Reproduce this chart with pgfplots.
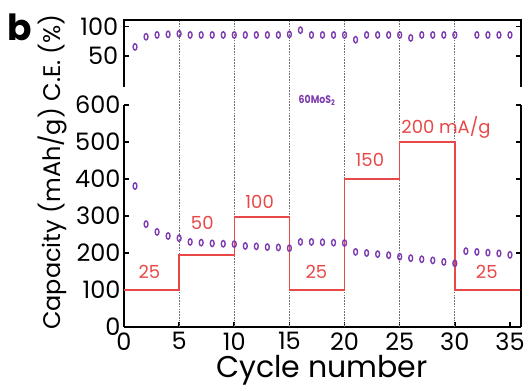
\documentclass[border=0pt]{standalone}
\usepackage{pgfplots}
\pgfplotsset{compat=1.18}
\usepackage{fontspec}
\setmainfont{Poppins}
\definecolor{mpurple}{RGB}{125,60,175}
\definecolor{mred}{RGB}{232,72,72}
\definecolor{dgray}{RGB}{110,110,110}
\begin{document}
\begin{tikzpicture}
\pgfplotsset{
  myax/.style={
    scale only axis, width=397pt, xmin=0, xmax=36,
    axis line style={line width=2.4pt,-},
    tick style={line width=1.6pt,black},
    major tick length=5pt,
    tick align=inside,
    ticklabel style={font=\fontsize{24}{24}\selectfont},
    /pgf/number format/assume math mode=true,
  },
  vl/.style={dgray, line width=0.9pt, dash pattern=on 1.6pt off 1.2pt, forget plot},
  capm/.style={only marks, mpurple, mark=o, mark size=3.2pt, mark options={xscale=0.6, line width=1.4pt}},
}
% ---------------- bottom axis: capacity (also carries the frame of the C.E. panel) ----------------
\begin{axis}[myax, name=capax, at={(0pt,0pt)}, anchor=south west, height=222pt,
  axis y line*=box, yticklabel pos=left,
  ymin=0, ymax=600, ytick={0,100,...,600},
  axis x line*=bottom, xtick={0,5,...,35},
  xticklabel style={yshift=-2pt},
  clip=false]
\addplot[vl] coordinates {(5,0) (5,829)};
\addplot[vl] coordinates {(10,0) (10,829)};
\addplot[vl] coordinates {(15,0) (15,829)};
\addplot[vl] coordinates {(20,0) (20,829)};
\addplot[vl] coordinates {(25,0) (25,829)};
\addplot[vl] coordinates {(30,0) (30,829)};
% frame of the upper (C.E.) panel: left, top and right
\addplot[black, line width=2.6pt, forget plot] coordinates {(0,648.6) (0,829.7) (36,829.7) (36,648.6)};
% ticks of the upper panel at 100 % and 50 %
\addplot[black, line width=1.6pt, forget plot] coordinates {(0,812.6) (0.45,812.6)};
\addplot[black, line width=1.6pt, forget plot] coordinates {(0,731.9) (0.45,731.9)};
\addplot[black, line width=1.6pt, forget plot] coordinates {(36,812.6) (35.55,812.6)};
\addplot[black, line width=1.6pt, forget plot] coordinates {(36,731.9) (35.55,731.9)};
\addplot[mred, line width=1.4pt, const plot] coordinates {(0,100) (5,195) (10,297) (15,100) (20,400) (25,500) (30,100) (35.95,100)};
\addplot[capm] coordinates {
(1,381) (2,278) (3,257) (4,246) (5,240)
(6,230) (7,228) (8,226) (9,225) (10,224)
(11,219) (12,218) (13,216) (14,215) (15,213)
(16,230) (17,230) (18,229) (19,228) (20,227)
(21,203) (22,200) (23,197) (24,194) (25,190)
(26,186) (27,183) (28,180) (29,176) (30,172)
(31,205) (32,203) (33,201) (34,199) (35,195)};
\begin{scope}[every node/.style={mred, font=\fontsize{18}{18}\selectfont}]
\node at (axis cs:2.3,149) {25};
\node at (axis cs:7.1,281) {50};
\node at (axis cs:12.3,338) {100};
\node at (axis cs:17.45,149) {25};
\node at (axis cs:22.3,451) {150};
\node at (axis cs:29.2,540) {200 mA/g};
\node at (axis cs:32.9,149) {25};
\end{scope}
\node[mpurple, font=\fontsize{11}{11}\bfseries\selectfont, xscale=0.85] at (axis cs:17.5,612) {60MoS\textsubscript{2}};
\node[anchor=east, font=\fontsize{24}{24}\selectfont] at (axis cs:-0.2,812.6) {100};
\node[anchor=east, font=\fontsize{24}{24}\selectfont] at (axis cs:-0.2,731.9) {50};
\end{axis}
% ---------------- top panel: C.E. data ----------------
\begin{axis}[myax, name=ceax, at={(0pt,240pt)}, anchor=south west, height=67pt,
  ymin=5, ymax=117, axis lines=none, clip marker paths=true]
\addplot[capm] coordinates {
(1,72) (2,89) (3,92) (4,93) (5,94)
(6,92) (7,92) (8,92) (9,92) (10,92)
(11,92) (12,92) (13,92) (14,92) (15,93)
(16,100) (17,92) (18,92) (19,92) (20,92)
(21,84) (22,92) (23,92) (24,92) (25,92)
(26,87) (27,92) (28,92) (29,92) (30,92)
(31,119) (32,92) (33,92) (34,92) (35,92)};
\end{axis}
\node[rotate=90, font=\fontsize{24}{24}\selectfont] at (-72pt,155pt) {Capacity (mAh/g) C.E. (\%)};
\node[font=\fontsize{30}{30}\selectfont] at (198pt,-43pt) {Cycle number};
\node[font=\fontsize{36}{36}\bfseries\selectfont] at (-104pt,300pt) {b};
\pgfresetboundingbox
\path (-124pt,-62pt) rectangle (404pt,327pt);
\end{tikzpicture}
\end{document}
